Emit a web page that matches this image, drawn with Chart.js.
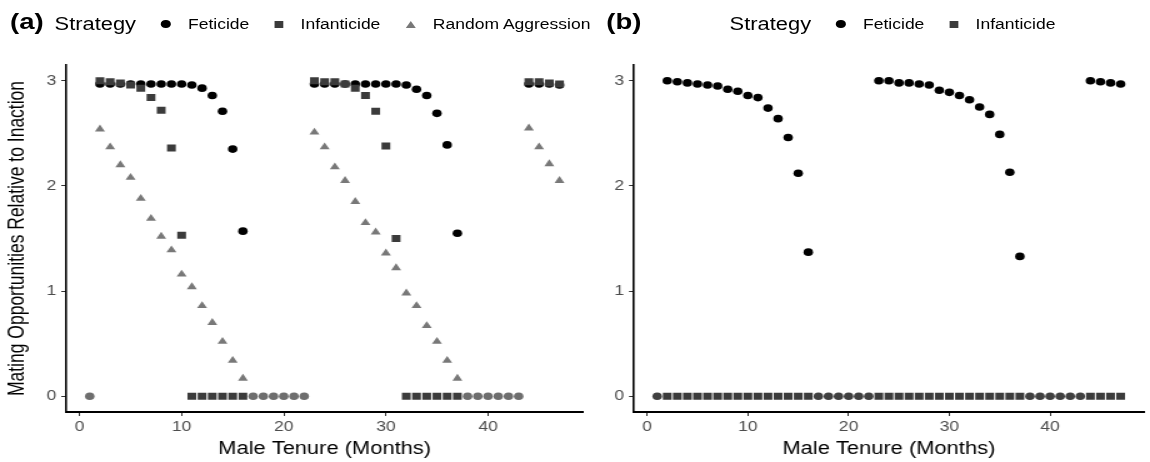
<!DOCTYPE html>
<html lang="en">
<head>
    <meta charset="UTF-8">
    <title>Mating opportunities by strategy</title>
    <script src="https://cdn.jsdelivr.net/npm/chart.js"></script>
    <style>
        body { margin: 0; background: #ffffff; overflow: hidden; }
        /* the reference figure is stretched sideways, so the stage is drawn narrow and widened */
        #stage { position: absolute; left: 0; top: 0; width: 920px; height: 462px;
                 transform: scaleX(1.25); transform-origin: 0 0;
                 font-family: "Liberation Sans", Arial, sans-serif; color: #000; }
        #stage canvas { position: absolute; top: 0; }
        .tag { position: absolute; top: 9px; font-size: 22px; font-weight: bold; line-height: 26px; }
        .legend { position: absolute; top: 12px; height: 24px; display: flex; align-items: center;
                  transform: translateX(-50%); white-space: nowrap; }
        .legend .title { font-size: 17.5px; margin-right: 20px; }
        .legend .label { font-size: 14px; margin-right: 20px; }
        .legend .label:last-child { margin-right: 0; }
        .sym { display: inline-block; margin-right: 14px; }
        .sym.circle { width: 7.6px; height: 7.6px; border-radius: 50%; }
        .sym.rect { width: 7px; height: 7px; }
        .sym.triangle { width: 0; height: 0; border-left: 4px solid transparent; border-right: 4px solid transparent; }
    </style>
</head>
<body>
    <div id="stage">
        <div class="tag" style="left: 8px;">(a)</div>
        <div class="legend" id="legendA" style="left: 258px;"></div>
        <canvas id="chartA" width="480" height="462" style="left: 0px;"></canvas>

        <div class="tag" style="left: 485px;">(b)</div>
        <div class="legend" id="legendB" style="left: 714px;"></div>
        <canvas id="chartB" width="440" height="462" style="left: 480px;"></canvas>
    </div>
    <script>
        // months of male tenure
        const months = [1, 2, 3, 4, 5, 6, 7, 8, 9, 10, 11, 12, 13, 14, 15, 16, 17, 18, 19, 20, 21, 22, 23, 24,
                        25, 26, 27, 28, 29, 30, 31, 32, 33, 34, 35, 36, 37, 38, 39, 40, 41, 42, 43, 44, 45, 46, 47];
        const strategies = ['Feticide', 'Infanticide', 'Random Aggression'];
        const xTicks = [0, 10, 20, 30, 40];
        const yTicks = [0, 1, 2, 3];

        // panel (a)
        const feticideA = [0,
            2.97, 2.97, 2.97, 2.97, 2.97, 2.97, 2.97, 2.97, 2.97, 2.96, 2.93, 2.86, 2.71, 2.35, 1.57,
            0, 0, 0, 0, 0, 0,
            2.97, 2.97, 2.97, 2.97, 2.97, 2.97, 2.97, 2.97, 2.97, 2.96, 2.92, 2.86, 2.69, 2.39, 1.55,
            0, 0, 0, 0, 0, 0,
            2.97, 2.97, 2.97, 2.96];
        const infanticideA = [null,
            3.00, 2.99, 2.98, 2.96, 2.93, 2.84, 2.72, 2.36, 1.53, 0, 0, 0, 0, 0, 0,
            null, null, null, null, null, null,
            3.00, 2.99, 2.99, 2.97, 2.93, 2.86, 2.71, 2.38, 1.50, 0, 0, 0, 0, 0, 0,
            null, null, null, null, null, null,
            2.99, 2.99, 2.98, 2.97];
        const randomA = [null,
            2.54, 2.37, 2.20, 2.08, 1.88, 1.69, 1.52, 1.39, 1.16, 1.04, 0.86, 0.70, 0.52, 0.34, 0.17,
            null, null, null, null, null, null,
            2.51, 2.37, 2.18, 2.05, 1.85, 1.65, 1.56, 1.36, 1.22, 0.98, 0.86, 0.67, 0.52, 0.34, 0.17,
            null, null, null, null, null, null,
            2.55, 2.37, 2.21, 2.05];

        // panel (b)
        const feticideB = [0,
            3.00, 2.99, 2.98, 2.97, 2.96, 2.95, 2.92, 2.90, 2.86, 2.84, 2.74, 2.64, 2.46, 2.12, 1.37,
            0, 0, 0, 0, 0, 0,
            3.00, 3.00, 2.98, 2.98, 2.97, 2.96, 2.91, 2.89, 2.86, 2.82, 2.75, 2.68, 2.49, 2.13, 1.33,
            0, 0, 0, 0, 0, 0,
            3.00, 2.99, 2.98, 2.97];
        const infanticideB = [null,
            0, 0, 0, 0, 0, 0, 0, 0, 0, 0, 0, 0, 0, 0, 0,
            null, null, null, null, null, null,
            0, 0, 0, 0, 0, 0, 0, 0, 0, 0, 0, 0, 0, 0, 0,
            null, null, null, null, null, null,
            0, 0, 0, 0];

        const FONT = '"Liberation Sans", Arial, sans-serif';
        const colors = ['#000000', '#3b3b3b', '#787878'];
        const shapes = ['circle', 'rect', 'triangle'];
        const radii = [3.8, 4.95, 4.6];

        function toPoints(values) {
            return months.map((m, i) => values[i] === null ? null : { x: m, y: values[i] }).filter(p => p);
        }

        function makeSet(idx, values, zeroColor) {
            return {
                label: strategies[idx],
                data: toPoints(values),
                order: 2 - idx,
                pointStyle: shapes[idx],
                pointRadius: radii[idx],
                borderWidth: 0,
                backgroundColor: c => (zeroColor && c.raw && c.raw.y === 0) ? zeroColor : colors[idx]
            };
        }

        function makePanel(id, datasets, yWidth, padRight, showTitle) {
            return new Chart(document.getElementById(id), {
                type: 'scatter',
                data: { datasets: datasets },
                options: {
                    responsive: false,
                    animation: false,
                    events: [],
                    layout: { padding: { left: 0, right: padRight, top: 65, bottom: 0 } },
                    plugins: { legend: { display: false }, tooltip: { enabled: false } },
                    scales: {
                        x: {
                            type: 'linear', min: -1.3, max: 49.3,
                            afterBuildTicks: s => { s.ticks = xTicks.map(v => ({ value: v })); },
                            afterFit: s => { s.height = 50; },
                            grid: { drawOnChartArea: false, tickLength: 4, color: '#333333', lineWidth: 1 },
                            border: { color: '#000000', width: 2 },
                            ticks: { color: '#4d4d4d', font: { size: 14, family: FONT }, padding: 3, maxRotation: 0 },
                            title: { display: true, text: 'Male Tenure (Months)', color: '#000000',
                                     font: { size: 17.5, family: FONT }, padding: { top: 0, bottom: 2 } }
                        },
                        y: {
                            type: 'linear', min: -0.15, max: 3.15,
                            afterBuildTicks: s => { s.ticks = yTicks.map(v => ({ value: v })); },
                            afterFit: s => { s.width = yWidth; },
                            grid: { drawOnChartArea: false, tickLength: 4, color: '#333333', lineWidth: 1 },
                            border: { color: '#000000', width: 1.6 },
                            ticks: { color: '#4d4d4d', font: { size: 14, family: FONT }, padding: 4 },
                            title: { display: showTitle, text: 'Mating Opportunities Relative to Inaction', color: '#000000',
                                     font: { size: 17.5, family: FONT }, padding: { top: 4, bottom: 0 } }
                        }
                    }
                }
            });
        }

        // html legend along the top of each panel
        function buildLegend(id, count) {
            const box = document.getElementById(id);
            let html = '<span class="title">Strategy</span>';
            for (let i = 0; i < count; i++) {
                let style = 'background:' + colors[i];
                if (shapes[i] === 'triangle') style = 'border-bottom: 7px solid ' + colors[i];
                html += '<span class="sym ' + shapes[i] + '" style="' + style + '"></span>';
                html += '<span class="label">' + strategies[i] + '</span>';
            }
            box.innerHTML = html;
        }

        buildLegend('legendA', 3);
        buildLegend('legendB', 2);

        makePanel('chartA', [
            makeSet(0, feticideA, '#6e6e6e'),
            makeSet(1, infanticideA),
            makeSet(2, randomA)
        ], 53, 13.6, true);

        makePanel('chartB', [
            makeSet(0, feticideB, '#404040'),
            makeSet(1, infanticideB)
        ], 27.2, 2, false);
    </script>
</body>
</html>
